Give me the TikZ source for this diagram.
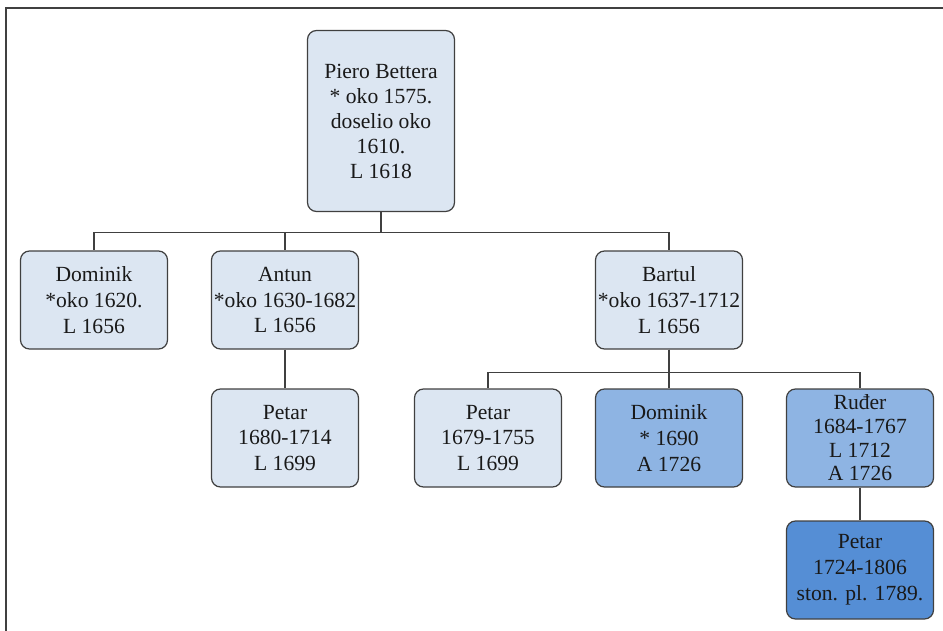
\documentclass[tikz,border=0pt]{standalone}
\usepackage{fontspec}
\setmainfont{Liberation Serif}
\definecolor{boxlight}{HTML}{DCE6F2}
\definecolor{boxmid}{HTML}{8EB4E3}
\definecolor{boxdark}{HTML}{558ED5}
\definecolor{edge}{HTML}{404040}
\begin{document}
\begin{tikzpicture}[
        x=0.5pt, y=-0.5pt,
        person/.style={draw=edge, line width=0.6pt, rounded corners=4.5pt, align=center, minimum width=73.5pt, minimum height=49pt, inner sep=1pt, font=\fontsize{10.8}{12.9}\selectfont, text=black!90},
        elder/.style={person, fill=boxlight},
        son/.style={person, fill=boxmid},
        heir/.style={person, fill=boxdark},
        link/.style={draw=edge, line width=0.6pt}
    ]
        \useasboundingbox (0,0) rectangle (943,631);
        \draw[line width=0.6pt, edge] (6,631) -- (6,8) -- (943,8);

        \node[elder, minimum height=90.5pt, font=\fontsize{10.8}{12.5}\selectfont] (piero) at (381, 121) {Piero Bettera\\* oko 1575.\\doselio oko\\1610.\\L 1618};

        \node[elder] (dominik) at (94, 300) {Dominik\\*oko 1620.\\L 1656};
        \node[elder] (antun) at (285, 300) {Antun\\*oko 1630-1682\\L 1656};
        \node[elder] (bartul) at (669, 300) {Bartul\\*oko 1637-1712\\L 1656};

        \node[elder] (petar-a) at (285, 438) {Petar\\1680-1714\\L 1699};
        \node[elder] (petar-b) at (488, 438) {Petar\\1679-1755\\L 1699};
        \node[son] (dominik-b) at (669, 438) {Dominik\\* 1690\\A 1726};
        \node[son, font=\fontsize{10.8}{11.8}\selectfont] (ruder) at (860, 438) {Ruđer\\1684-1767\\L 1712\\A 1726};

        \node[heir] (petar-r) at (860, 570) {Petar\\1724-1806\\ston. pl. 1789.};

        \draw[link] (piero.south) -- ++(0,20) -| (dominik.north);
        \draw[link] (piero.south) -- ++(0,20) -| (antun.north);
        \draw[link] (piero.south) -- ++(0,20) -| (bartul.north);
        \draw[link] (antun) -- (petar-a);
        \draw[link] (bartul.south) -- ++(0,23) -| (petar-b.north);
        \draw[link] (bartul) -- (dominik-b);
        \draw[link] (bartul.south) -- ++(0,23) -| (ruder.north);
        \draw[link] (ruder) -- (petar-r);
    \end{tikzpicture}
\end{document}
